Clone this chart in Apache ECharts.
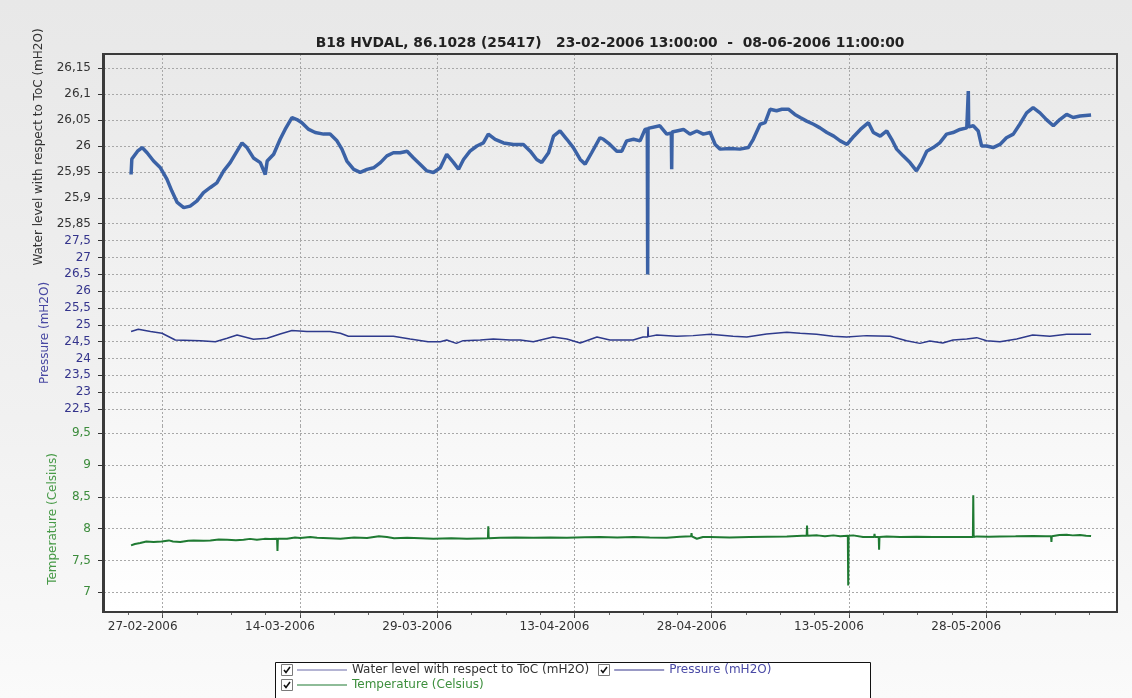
<!DOCTYPE html>
<html>
<head>
<meta charset="utf-8">
<script src="https://cdn.jsdelivr.net/npm/echarts@6/dist/echarts.min.js"></script>
<style>
html,body{margin:0;padding:0;}
#c{width:1132px;height:698px;background:linear-gradient(to bottom,#e8e8e8 0%,#f1f1f1 60%,#fafafa 100%);}
</style>
</head>
<body>
<div id="c"></div>
<script>
// ---------- text ----------
const chartTitle = 'B18 HVDAL, 86.1028 (25417)   23-02-2006 13:00:00  -  08-06-2006 11:00:00';
const waterName = 'Water level with respect to ToC (mH2O)';
const pressureName = 'Pressure (mH2O)';
const tempName = 'Temperature (Celsius)';

// ---------- tick labels ----------
const xTickLabels = ['27-02-2006','14-03-2006','29-03-2006','13-04-2006','28-04-2006','13-05-2006','28-05-2006'];
const waterTicks = [25.85, 25.9, 25.95, 26, 26.05, 26.1, 26.15];
const pressureTicks = [22.5, 23, 23.5, 24, 24.5, 25, 25.5, 26, 26.5, 27, 27.5];
const tempTicks = [7, 7.5, 8, 8.5, 9, 9.5];

// ---------- series data: [hours since 23-02-2006 13:00, value] ----------
const waterLevel = [
[0,25.945],[2,25.975],[7,25.977],[17,25.99],[29,25.997],[42,25.987],[59,25.971],[77,25.958],[94,25.936],[107,25.913],
[121,25.891],[138,25.881],[155,25.884],[173,25.894],[190,25.910],[208,25.920],[225,25.929],[243,25.952],[260,25.968],[278,25.990],
[291,26.006],[304,25.997],[321,25.977],[339,25.968],[352,25.945],[357,25.971],[374,25.984],[391,26.013],[404,26.032],[422,26.055],
[435,26.051],[448,26.045],[466,26.032],[483,26.026],[505,26.023],[522,26.023],[540,26.010],[553,25.994],[566,25.971],[584,25.955],
[601,25.949],[619,25.955],[636,25.958],[654,25.968],[671,25.981],[688,25.987],[706,25.987],[724,25.990],[741,25.977],[758,25.965],
[776,25.952],[793,25.949],[811,25.958],[828,25.984],[846,25.968],[859,25.955],[872,25.974],[889,25.990],[907,26.000],[924,26.006],
[937,26.023],[955,26.013],[977,26.006],[1003,26.003],[1029,26.003],[1047,25.990],[1064,25.974],[1077,25.968],[1095,25.987],[1108,26.019],
[1125,26.029],[1143,26.013],[1160,25.997],[1178,25.974],[1191,25.965],[1208,25.987],[1230,26.016],[1239,26.013],[1256,26.003],[1274,25.990],
[1287,25.990],[1300,26.010],[1318,26.013],[1335,26.010],[1348,26.032],[1354,26.033],[1355,25.752],[1356,26.034],[1361,26.035],[1387,26.039],
[1405,26.023],[1417,26.025],[1418,25.955],[1419,26.027],[1431,26.029],[1449,26.032],[1466,26.023],[1484,26.029],[1501,26.023],[1519,26.026],
[1532,26.003],[1545,25.994],[1571,25.995],[1597,25.994],[1619,25.997],[1632,26.013],[1650,26.042],[1663,26.045],[1676,26.071],[1693,26.068],
[1707,26.071],[1724,26.071],[1741,26.061],[1755,26.055],[1772,26.048],[1790,26.042],[1807,26.035],[1825,26.026],[1843,26.019],[1860,26.010],
[1878,26.003],[1896,26.019],[1913,26.032],[1934,26.045],[1947,26.026],[1965,26.019],[1982,26.029],[1995,26.013],[2008,25.994],[2025,25.981],
[2043,25.968],[2060,25.952],[2073,25.968],[2087,25.990],[2104,25.997],[2121,26.006],[2139,26.023],[2156,26.026],[2174,26.032],[2192,26.035],
[2195,26.035],[2196,26.106],[2197,26.037],[2209,26.039],[2222,26.029],[2231,26.000],[2244,26.000],[2261,25.997],[2279,26.003],[2296,26.016],
[2314,26.023],[2331,26.042],[2349,26.064],[2366,26.074],[2384,26.064],[2401,26.051],[2419,26.039],[2436,26.051],[2454,26.061],[2471,26.055],
[2489,26.058],[2518,26.060]
];

const pressure = [
[0,24.80],[19,24.87],[51,24.80],[81,24.75],[116,24.55],[182,24.53],[221,24.50],[252,24.60],[278,24.70],[321,24.57],
[357,24.60],[391,24.73],[422,24.83],[461,24.80],[522,24.80],[549,24.75],[570,24.66],[619,24.66],[688,24.66],[732,24.58],
[779,24.50],[811,24.50],[828,24.55],[853,24.45],[871,24.53],[916,24.55],[950,24.58],[994,24.55],[1021,24.55],[1055,24.50],
[1107,24.64],[1143,24.58],[1178,24.46],[1222,24.64],[1256,24.55],[1283,24.55],[1317,24.55],[1343,24.64],[1355,24.64],[1356,24.94],
[1357,24.65],[1379,24.70],[1431,24.66],[1474,24.68],[1519,24.72],[1579,24.66],[1615,24.64],[1667,24.73],[1720,24.78],[1755,24.75],
[1798,24.72],[1841,24.66],[1877,24.64],[1929,24.68],[1991,24.66],[2034,24.53],[2069,24.45],[2095,24.52],[2129,24.46],[2156,24.55],
[2192,24.58],[2218,24.62],[2244,24.53],[2279,24.50],[2323,24.58],[2365,24.70],[2410,24.66],[2454,24.72],[2518,24.72]
];

const temperature = [
[0,7.737],[10,7.76],[24,7.774],[40,7.80],[59,7.79],[80,7.80],[99,7.816],[110,7.80],[129,7.79],[150,7.81],
[164,7.816],[190,7.81],[208,7.816],[230,7.83],[252,7.826],[275,7.82],[295,7.826],[312,7.84],[330,7.826],[350,7.84],
[365,7.837],[383,7.84],[384,7.648],[385,7.84],[409,7.842],[430,7.86],[444,7.853],[470,7.87],[488,7.858],[520,7.85],
[549,7.842],[585,7.86],[619,7.853],[650,7.88],[671,7.868],[690,7.85],[724,7.858],[760,7.85],[793,7.842],[840,7.85],
[881,7.842],[936,7.85],[937,8.037],[938,7.85],[968,7.858],[1010,7.86],[1055,7.858],[1100,7.86],[1143,7.858],[1190,7.865],
[1230,7.868],[1275,7.86],[1318,7.868],[1360,7.86],[1405,7.858],[1440,7.875],[1469,7.88],[1470,7.93],[1471,7.88],[1484,7.842],
[1500,7.87],[1519,7.868],[1570,7.86],[1622,7.868],[1670,7.875],[1720,7.879],[1760,7.89],[1772,7.89],[1773,8.05],[1774,7.89],
[1800,7.895],[1820,7.88],[1842,7.895],[1860,7.88],[1880,7.89],[1881,7.106],[1882,7.89],[1894,7.895],[1920,7.868],[1949,7.87],
[1950,7.92],[1951,7.87],[1961,7.87],[1962,7.669],[1963,7.87],[1982,7.879],[2017,7.868],[2060,7.872],[2104,7.868],[2150,7.87],
[2192,7.868],[2208,7.87],[2209,8.526],[2210,7.87],[2218,7.879],[2250,7.875],[2279,7.879],[2320,7.88],[2366,7.884],[2400,7.88],
[2413,7.88],[2414,7.79],[2415,7.88],[2435,7.90],[2454,7.905],[2470,7.895],[2489,7.90],[2505,7.89],[2518,7.884]
];

// ---------- helpers ----------
const FONT = 'DejaVu Sans';
const START_MS = Date.UTC(2006, 1, 23, 13, 0);
const X_MIN = -71, X_MAX = 2586;
const pad = n => String(n).padStart(2, '0');
const labelToHour = s => { const p = s.split('-').map(Number); return (Date.UTC(p[2], p[1] - 1, p[0]) - START_MS) / 3600000; };
const hourToLabel = h => { const d = new Date(START_MS + Math.round(h) * 3600000); return pad(d.getUTCDate()) + '-' + pad(d.getUTCMonth() + 1) + '-' + d.getUTCFullYear(); };
const fmtNum = v => String(Math.round(v * 100) / 100).replace('.', ',');
const xTicks = xTickLabels.map(labelToHour);
// minor ticks: four per 15-day step
const xMinorTicks = [];
for (let h = xTicks[0] - 90; h <= X_MAX; h += 90) if (h >= X_MIN) xMinorTicks.push(h);

const gridLine = { show: true, lineStyle: { color: '#a8a8a8', type: [2, 2], width: 1 } };

function xAxisCfg(i, showLabels) {
  return {
    type: 'value', gridIndex: i, min: X_MIN, max: X_MAX, position: 'bottom',
    axisLine: { show: false, onZero: false },
    axisTick: { show: showLabels, customValues: xTicks, length: 6, lineStyle: { color: '#444' } },
    axisLabel: { show: showLabels, customValues: xTicks, formatter: hourToLabel, color: '#333',
                 fontFamily: FONT, fontSize: 12, margin: 9, padding: [0, 40, 0, 0] },
    splitLine: gridLine
  };
}
function yAxisCfg(i, min, max, ticks, name, nameColor, labelColor, gap) {
  return {
    type: 'value', gridIndex: i, min: min, max: max, position: 'left',
    name: name, nameLocation: 'middle', nameRotate: 90, nameGap: gap,
    nameTextStyle: { color: nameColor, fontFamily: FONT, fontSize: 12 },
    axisLine: { show: true, onZero: false, lineStyle: { color: '#3a3a3a', width: 2 } },
    axisTick: { show: true, inside: false, customValues: ticks, length: 6, lineStyle: { color: '#333', width: 1 } },
    axisLabel: { customValues: ticks, formatter: fmtNum, color: labelColor, fontFamily: FONT, fontSize: 12, margin: 13 },
    splitLine: gridLine
  };
}

const PLOT = { left: 104, right: 1117, top: 54, bottom: 612 };
const SUB_H = 186;

function checkbox(x, y) {
  return [
    { type: 'rect', z: 20, silent: true, shape: { x: x + 0.5, y: y + 0.5, width: 11, height: 11 },
      style: { fill: '#fff', stroke: '#7a7a7a', lineWidth: 1 } },
    { type: 'polyline', z: 21, silent: true, shape: { points: [[x + 3, y + 6], [x + 5, y + 8.5], [x + 9, y + 3]] },
      style: { stroke: '#111', lineWidth: 1.6, fill: null } }
  ];
}

const minorXAxis = {
  type: 'value', gridIndex: 2, min: X_MIN, max: X_MAX, position: 'bottom', offset: 0,
  axisLine: { show: false, onZero: false },
  axisTick: { show: true, customValues: xMinorTicks, length: 3, lineStyle: { color: '#666' } },
  axisLabel: { show: false, customValues: xMinorTicks },
  splitLine: { show: false }
};

const chart = echarts.init(document.getElementById('c'), null, { renderer: 'canvas', width: 1132, height: 698 });
chart.setOption({
  backgroundColor: 'transparent',
  animation: false,
  title: {
    text: chartTitle, left: 605, top: 31, textAlign: 'center',
    textStyle: { fontFamily: FONT, fontSize: 13.8, fontWeight: 'bold', color: '#222' }
  },
  grid: [
    { left: PLOT.left, right: 1132 - PLOT.right, top: PLOT.top, height: SUB_H },
    { left: PLOT.left, right: 1132 - PLOT.right, top: PLOT.top + SUB_H, height: SUB_H },
    { left: PLOT.left, right: 1132 - PLOT.right, top: PLOT.top + 2 * SUB_H, height: SUB_H }
  ],
  xAxis: [xAxisCfg(0, false), xAxisCfg(1, false), xAxisCfg(2, true), minorXAxis],
  yAxis: [
    yAxisCfg(0, 25.8186, 26.1776, waterTicks, waterName, '#333', '#333', 59),
    yAxisCfg(1, 21.995, 27.521, pressureTicks, pressureName, '#4848a2', '#34348c', 53),
    yAxisCfg(2, 6.69, 9.615, tempTicks, tempName, '#479a47', '#3c8c3c', 45)
  ],
  legend: [
    {
      left: 297, top: 664, padding: 0, itemGap: 25, itemWidth: 50, itemHeight: 1, z: 10,
      icon: 'rect', selectedMode: false,
      textStyle: { fontFamily: FONT, fontSize: 12 },
      data: [
        { name: waterName, itemStyle: { color: '#6a6aa8' }, textStyle: { color: '#333' } },
        { name: pressureName, itemStyle: { color: '#34348c' }, textStyle: { color: '#4a4aa6' } }
      ]
    },
    {
      left: 297, top: 679, padding: 0, itemWidth: 50, itemHeight: 1, z: 10,
      icon: 'rect', selectedMode: false,
      textStyle: { fontFamily: FONT, fontSize: 12 },
      data: [ { name: tempName, itemStyle: { color: '#1f7a32' }, textStyle: { color: '#3d8f3d' } } ]
    }
  ],
  graphic: [
    { type: 'rect', z: -10, silent: true,
      shape: { x: PLOT.left, y: PLOT.top, width: PLOT.right - PLOT.left, height: PLOT.bottom - PLOT.top },
      style: { fill: new echarts.graphic.LinearGradient(0, 0, 0, 1, [
        { offset: 0, color: '#e9e9e9' }, { offset: 0.5, color: '#f3f3f3' }, { offset: 1, color: '#ffffff' }]) } },
    { type: 'rect', z: 100, silent: true,
      shape: { x: PLOT.left - 1, y: PLOT.top, width: PLOT.right - PLOT.left + 1, height: PLOT.bottom - PLOT.top },
      style: { fill: null, stroke: '#3a3a3a', lineWidth: 2 } },
    { type: 'rect', z: 5, silent: true,
      shape: { x: 275.5, y: 662.5, width: 595, height: 50 },
      style: { fill: '#fff', stroke: '#111', lineWidth: 1 } }
  ].concat(checkbox(281, 664), checkbox(598, 664), checkbox(281, 679)),
  series: [
    { name: waterName, type: 'line', xAxisIndex: 0, yAxisIndex: 0, data: waterLevel, showSymbol: false,
      clip: false, lineStyle: { color: '#3b62a6', width: 3.5 }, itemStyle: { color: '#3b62a6' } },
    { name: pressureName, type: 'line', xAxisIndex: 1, yAxisIndex: 1, data: pressure, showSymbol: false,
      lineStyle: { color: '#2e3a8c', width: 1.5 }, itemStyle: { color: '#2e3a8c' } },
    { name: tempName, type: 'line', xAxisIndex: 2, yAxisIndex: 2, data: temperature, showSymbol: false,
      clip: false, lineStyle: { color: '#1f7a32', width: 2 }, itemStyle: { color: '#1f7a32' } }
  ]
});
</script>
</body>
</html>
